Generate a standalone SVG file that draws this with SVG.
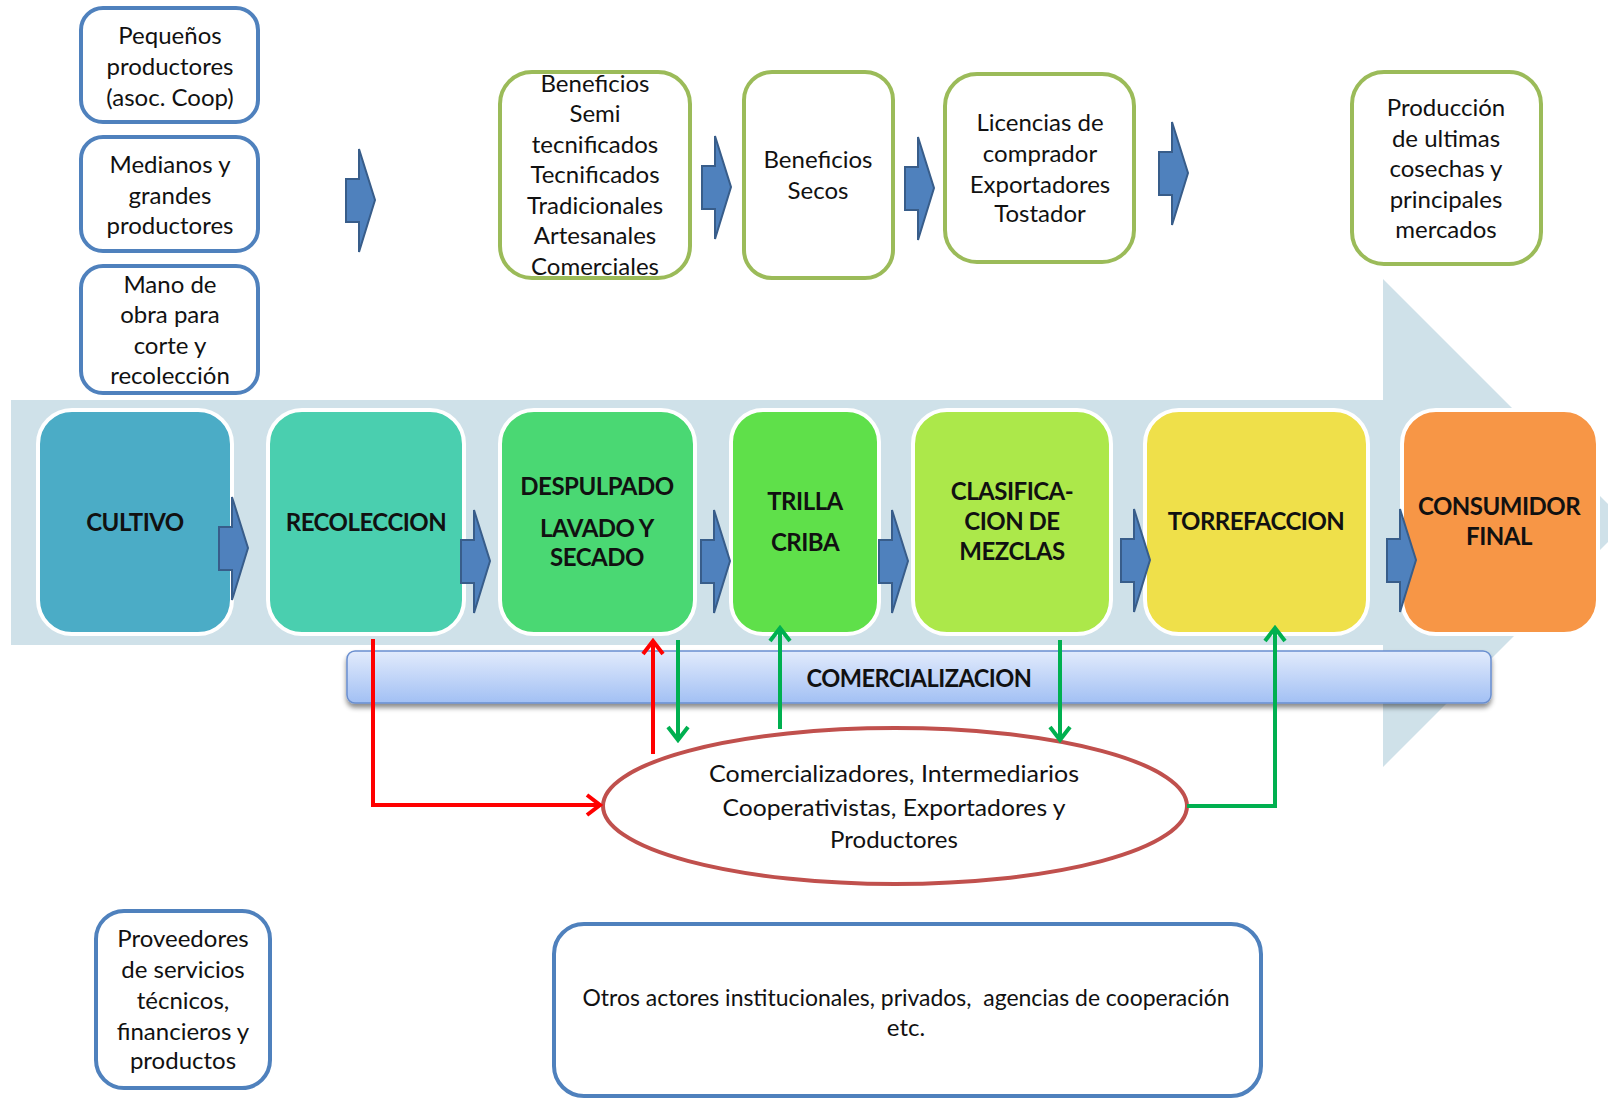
<svg xmlns="http://www.w3.org/2000/svg" width="1608" height="1099" viewBox="0 0 1608 1099">
<defs>
<style>
.t{font-family:Lato,"Liberation Sans",sans-serif;font-size:24px;fill:#111;text-anchor:middle}
.b{font-family:Lato,"Liberation Sans",sans-serif;font-size:24px;font-weight:bold;letter-spacing:-0.5px;fill:#111;text-anchor:middle}
.bb{fill:#fff;stroke:#4F81BD;stroke-width:4}
.gb{fill:#fff;stroke:#9BBB59;stroke-width:4}
.mb{stroke:#fff;stroke-width:4}
.chev{fill:#4F81BD;stroke:#385D8A;stroke-width:2;stroke-linejoin:miter}
.red{fill:none;stroke:#FF0000;stroke-width:4}
.grn{fill:none;stroke:#00B050;stroke-width:4}
</style>
<linearGradient id="barg" x1="0" y1="0" x2="0" y2="1">
<stop offset="0" stop-color="#E2EBFC"/>
<stop offset="1" stop-color="#A2C0F4"/>
</linearGradient>
<filter id="sh" x="-5%" y="-30%" width="110%" height="180%">
<feDropShadow dx="0" dy="4" stdDeviation="2.5" flood-color="#000" flood-opacity="0.45"/>
</filter>
<path id="ch" d="M0,30 H13 V0 L29,51 L13,103 V73 H0 Z"/>
<marker id="ar" viewBox="-2 -13 18 26" refX="13" refY="0" markerWidth="18" markerHeight="26" markerUnits="userSpaceOnUse" orient="auto">
<path d="M0,-10 L13,0 L0,10" fill="none" stroke="#FF0000" stroke-width="4"/>
</marker>
<marker id="ag" viewBox="-2 -13 18 26" refX="13" refY="0" markerWidth="18" markerHeight="26" markerUnits="userSpaceOnUse" orient="auto">
<path d="M0,-10 L13,0 L0,10" fill="none" stroke="#00B050" stroke-width="4"/>
</marker>
</defs>

<g id="big-arrow">
<polygon points="11,400 1383,400 1383,279 1627,523 1383,767 1383,645 11,645" fill="#CFE1E9"/>
</g>

<g id="top-left">
<g id="n-pequenos"><rect class="bb" x="81" y="8" width="177" height="114" rx="22"/>
<text class="t" x="170" y="44">Pequeños</text><text class="t" x="170" y="75">productores</text><text class="t" x="170" y="106">(asoc. Coop)</text></g>
<g id="n-medianos"><rect class="bb" x="81" y="137" width="177" height="114" rx="22"/>
<text class="t" x="170" y="173">Medianos y</text><text class="t" x="170" y="204">grandes</text><text class="t" x="170" y="234">productores</text></g>
<g id="n-mano"><rect class="bb" x="81" y="266" width="177" height="127" rx="22"/>
<text class="t" x="170" y="293">Mano de</text><text class="t" x="170" y="323">obra para</text><text class="t" x="170" y="354">corte y</text><text class="t" x="170" y="384">recolección</text></g>
</g>

<g id="top-green">
<g id="n-beneficios"><rect class="gb" x="500" y="72" width="190" height="206" rx="32"/>
<text class="t" x="595" y="92">Beneficios</text><text class="t" x="595" y="122">Semi</text><text class="t" x="595" y="153">tecnificados</text><text class="t" x="595" y="183">Tecnificados</text><text class="t" x="595" y="214">Tradicionales</text><text class="t" x="595" y="244">Artesanales</text><text class="t" x="595" y="275">Comerciales</text></g>
<g id="n-secos"><rect class="gb" x="744" y="72" width="149" height="206" rx="28"/>
<text class="t" x="818" y="168">Beneficios</text><text class="t" x="818" y="199">Secos</text></g>
<g id="n-licencias"><rect class="gb" x="945" y="74" width="189" height="188" rx="32"/>
<text class="t" x="1040" y="131">Licencias de</text><text class="t" x="1040" y="162">comprador</text><text class="t" x="1040" y="193">Exportadores</text><text class="t" x="1040" y="222">Tostador</text></g>
<g id="n-produccion"><rect class="gb" x="1352" y="72" width="189" height="192" rx="32"/>
<text class="t" x="1446" y="116">Producción</text><text class="t" x="1446" y="147">de ultimas</text><text class="t" x="1446" y="177">cosechas y</text><text class="t" x="1446" y="208">principales</text><text class="t" x="1446" y="238">mercados</text></g>
</g>

<g id="top-chevrons">
<use href="#ch" class="chev" transform="translate(346,149)"/>
<use href="#ch" class="chev" transform="translate(702,136)"/>
<use href="#ch" class="chev" transform="translate(905,137)"/>
<use href="#ch" class="chev" transform="translate(1159,122)"/>
</g>

<g id="stages">
<g id="n-cultivo"><rect class="mb" x="38" y="410" width="194" height="224" rx="34" fill="#4BACC6"/>
<text class="b" x="135" y="531">CULTIVO</text></g>
<g id="n-recoleccion"><rect class="mb" x="268" y="410" width="196" height="224" rx="34" fill="#4ACFAF"/>
<text class="b" x="366" y="531">RECOLECCION</text></g>
<g id="n-despulpado"><rect class="mb" x="500" y="410" width="195" height="224" rx="34" fill="#4AD873"/>
<text class="b" x="597" y="495">DESPULPADO</text><text class="b" x="597" y="537">LAVADO Y</text><text class="b" x="597" y="566">SECADO</text></g>
<g id="n-trilla"><rect class="mb" x="731" y="410" width="148" height="224" rx="32" fill="#5FE04A"/>
<text class="b" x="805" y="510">TRILLA</text><text class="b" x="805" y="551">CRIBA</text></g>
<g id="n-clasificacion"><rect class="mb" x="913" y="410" width="198" height="224" rx="34" fill="#ACE84A"/>
<text class="b" x="1012" y="500">CLASIFICA-</text><text class="b" x="1012" y="530">CION DE</text><text class="b" x="1012" y="560">MEZCLAS</text></g>
<g id="n-torrefaccion"><rect class="mb" x="1145" y="410" width="223" height="224" rx="34" fill="#EFE04A"/>
<text class="b" x="1256" y="530">TORREFACCION</text></g>
<g id="n-consumidor"><rect class="mb" x="1402" y="410" width="196" height="224" rx="34" fill="#F79646"/>
<text class="b" x="1499" y="515">CONSUMIDOR</text><text class="b" x="1499" y="545">FINAL</text></g>
</g>

<g id="stage-chevrons">
<use href="#ch" class="chev" transform="translate(219,497)"/>
<use href="#ch" class="chev" transform="translate(461,510)"/>
<use href="#ch" class="chev" transform="translate(701,510)"/>
<use href="#ch" class="chev" transform="translate(879,510)"/>
<use href="#ch" class="chev" transform="translate(1121,509)"/>
<use href="#ch" class="chev" transform="translate(1387,509)"/>
</g>

<g id="n-comercializacion">
<rect x="347" y="651" width="1144" height="52" rx="8" fill="url(#barg)" stroke="#6A8FCF" stroke-width="1.5" filter="url(#sh)"/>
<text class="b" x="919" y="687" font-size="25" letter-spacing="0" textLength="225" lengthAdjust="spacingAndGlyphs">COMERCIALIZACION</text>
</g>

<g id="n-comercializadores">
<ellipse cx="895" cy="806" rx="292" ry="78" fill="#fff" stroke="#C0504D" stroke-width="4"/>
<text class="t" x="894" y="782" textLength="370" lengthAdjust="spacingAndGlyphs">Comercializadores, Intermediarios</text>
<text class="t" x="894" y="816" textLength="343" lengthAdjust="spacingAndGlyphs">Cooperativistas, Exportadores y</text>
<text class="t" x="894" y="848">Productores</text>
</g>

<g id="connectors">
<path class="red" d="M373,639 V805 H600" marker-end="url(#ar)"/>
<path class="red" d="M653,754 V641" marker-end="url(#ar)"/>
<path class="grn" d="M678,640 V740" marker-end="url(#ag)"/>
<path class="grn" d="M780,729 V628" marker-end="url(#ag)"/>
<path class="grn" d="M1060,640 V740" marker-end="url(#ag)"/>
<path class="grn" d="M1187,806 H1275 V628" marker-end="url(#ag)"/>
</g>

<g id="bottom">
<g id="n-proveedores"><rect class="bb" x="96" y="911" width="174" height="177" rx="28"/>
<text class="t" x="183" y="947">Proveedores</text><text class="t" x="183" y="978">de servicios</text><text class="t" x="183" y="1009">técnicos,</text><text class="t" x="183" y="1040">financieros y</text><text class="t" x="183" y="1069">productos</text></g>
<g id="n-otros"><rect class="bb" x="554" y="924" width="707" height="172" rx="30"/>
<text class="t" x="906" y="1006" xml:space="preserve" textLength="647" lengthAdjust="spacingAndGlyphs">Otros actores institucionales, privados,  agencias de cooperación</text>
<text class="t" x="906" y="1036">etc.</text></g>
</g>
</svg>
